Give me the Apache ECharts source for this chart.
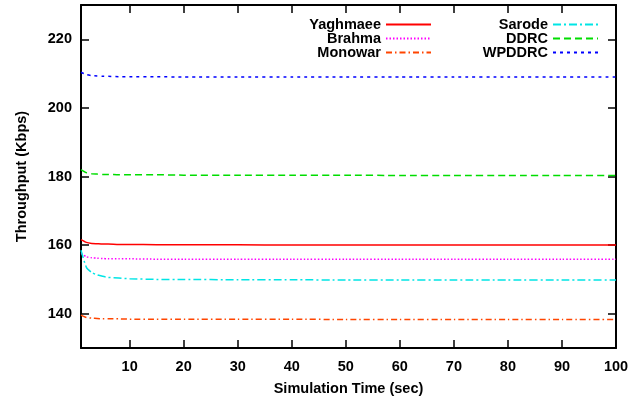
<!DOCTYPE html>
<html style="height: 100%">
<head>
<meta charset="utf-8">
<script type="text/javascript" src="https://cdn.jsdelivr.net/npm/echarts@6/dist/echarts.min.js"></script>
</head>
<body style="height: 100%; margin: 0; background: #fff">
<div id="container" style="width: 644px; height: 401px"></div>
<script type="text/javascript">
// simulation time (sec)
var times = [1, 2, 3, 4, 5, 6, 8, 10, 15, 20, 30, 40, 50, 60, 70, 80, 90, 100];
var yaghmaee = [161.6, 160.8, 160.5, 160.4, 160.3, 160.3, 160.2, 160.2, 160.1, 160.1, 160.1, 160.0, 160.0, 160.0, 160.0, 160.0, 160.0, 160.0];
var brahma   = [157.6, 156.6, 156.3, 156.2, 156.1, 156.0, 156.0, 156.0, 155.9, 155.9, 155.9, 155.9, 155.9, 155.9, 155.9, 155.9, 155.9, 155.9];
var monowar  = [139.6, 138.9, 138.7, 138.6, 138.5, 138.5, 138.5, 138.4, 138.4, 138.4, 138.4, 138.4, 138.3, 138.3, 138.3, 138.3, 138.3, 138.3];
var sarode   = [158.5, 153.5, 152.0, 151.3, 150.9, 150.6, 150.4, 150.2, 150.0, 150.0, 149.9, 149.9, 149.8, 149.8, 149.8, 149.8, 149.8, 149.8];
var ddrc     = [182.0, 181.1, 180.8, 180.7, 180.6, 180.6, 180.5, 180.5, 180.5, 180.4, 180.4, 180.4, 180.4, 180.3, 180.3, 180.3, 180.3, 180.3];
var wpddrc   = [210.4, 209.7, 209.4, 209.3, 209.2, 209.2, 209.1, 209.1, 209.1, 209.0, 209.0, 209.0, 209.0, 209.0, 209.0, 209.0, 209.0, 209.0];
var xTicks = [10, 20, 30, 40, 50, 60, 70, 80, 90, 100];
var yTicks = [140, 160, 180, 200, 220];

var font = "'Liberation Sans', Arial, sans-serif";

function pairs(vals) {
  var out = [];
  for (var i = 0; i < times.length; i++) out.push([times[i], vals[i]]);
  return out;
}
function line(name, vals, color, type) {
  return {
    name: name, type: 'line', data: pairs(vals), symbol: 'none', smooth: 0.2,
    lineStyle: { color: color, width: 1.5, type: type },
    itemStyle: { color: color }
  };
}

var axisBase = {
  axisLine: { show: true, lineStyle: { color: '#000', width: 2 } },
  axisTick: { show: true, inside: true, length: 8, lineStyle: { color: '#000', width: 1.5 } },
  splitLine: { show: false }
};
var legendText = { fontFamily: font, fontWeight: 'bold', fontSize: 14.5, color: '#000' };

var myChart = echarts.init(document.getElementById('container'));
myChart.setOption({
  animation: false,
  grid: { left: 81, right: 28, top: 5, bottom: 49 },
  legend: [{
    data: ['Yaghmaee', 'Brahma', 'Monowar'],
    orient: 'vertical', align: 'right', right: 207, top: 12,
    itemWidth: 45, itemHeight: 8, itemGap: -1,
    itemStyle: { opacity: 0 },
    textStyle: legendText
  }, {
    data: ['Sarode', 'DDRC', 'WPDDRC'],
    orient: 'vertical', align: 'right', right: 40, top: 12,
    itemWidth: 45, itemHeight: 8, itemGap: -1,
    itemStyle: { opacity: 0 },
    textStyle: legendText
  }],
  xAxis: [Object.assign({}, axisBase, {
    type: 'value', min: 1, max: 100, position: 'bottom',
    name: 'Simulation Time (sec)', nameLocation: 'middle', nameGap: 33,
    nameTextStyle: { fontFamily: font, fontWeight: 'bold', fontSize: 14.5, color: '#000' },
    axisTick: Object.assign({}, axisBase.axisTick, { customValues: xTicks }),
    axisLabel: { customValues: xTicks, margin: 11, fontFamily: font, fontWeight: 'bold', fontSize: 14.5, color: '#000' }
  }), Object.assign({}, axisBase, {
    type: 'value', min: 1, max: 100, position: 'top',
    axisTick: Object.assign({}, axisBase.axisTick, { customValues: xTicks }),
    axisLabel: { show: false }
  })],
  yAxis: [Object.assign({}, axisBase, {
    type: 'value', min: 130, max: 230, position: 'left',
    name: 'Throughput (Kbps)', nameLocation: 'middle', nameGap: 52,
    nameTextStyle: { fontFamily: font, fontWeight: 'bold', fontSize: 14.5, color: '#000' },
    axisTick: Object.assign({}, axisBase.axisTick, { customValues: yTicks }),
    axisLabel: { customValues: yTicks, margin: 9, fontFamily: font, fontWeight: 'bold', fontSize: 14.5, color: '#000' }
  }), Object.assign({}, axisBase, {
    type: 'value', min: 130, max: 230, position: 'right',
    axisTick: Object.assign({}, axisBase.axisTick, { customValues: yTicks }),
    axisLabel: { show: false }
  })],
  series: [
    line('Yaghmaee', yaghmaee, '#ff0000', 'solid'),
    line('Brahma', brahma, '#ff00ff', [1.5, 2]),
    line('Monowar', monowar, '#ff4500', [6, 3, 1.5, 3]),
    line('Sarode', sarode, '#00e5e5', [8, 3, 2, 3]),
    line('DDRC', ddrc, '#00dd00', [7, 4]),
    line('WPDDRC', wpddrc, '#0000ff', [3, 4])
  ]
});
</script>
</body>
</html>
